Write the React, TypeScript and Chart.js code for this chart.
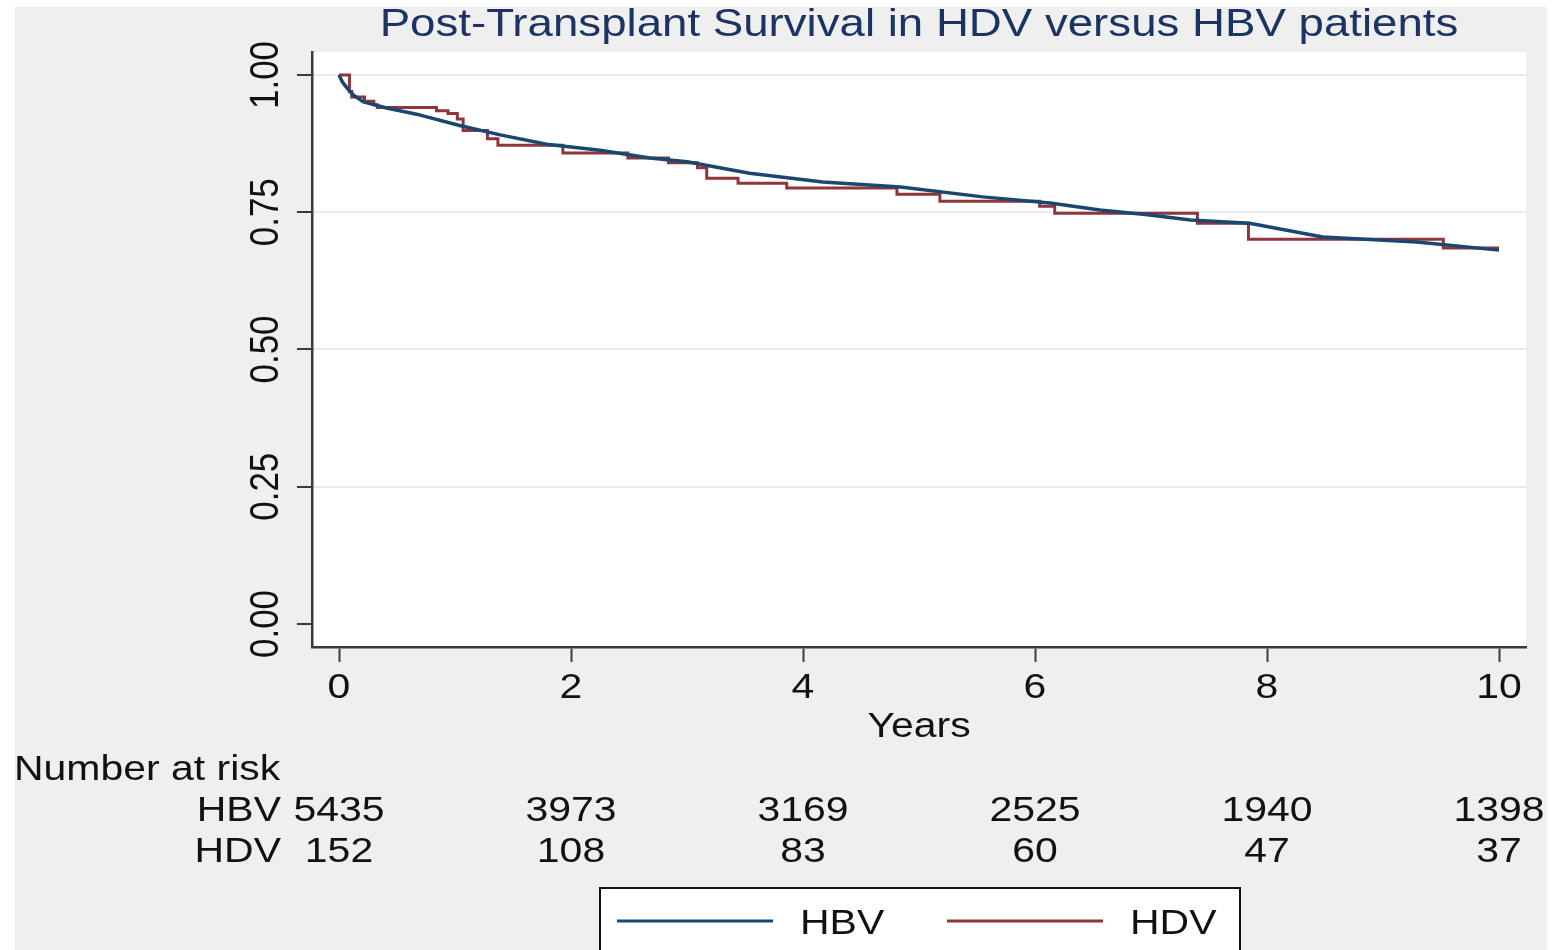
import React, { useEffect, useRef } from "react";
import { Chart, registerables } from "chart.js";

Chart.register(...registerables);

// ---- data ----
const titleText = "Post-Transplant Survival in HDV versus HBV patients";
const xAxisTitle = "Years";
const seriesNames = ["HBV", "HDV"];

const hbvTimes = [0, 0.03, 0.07, 0.12, 0.21, 0.41, 0.7, 1.04, 1.39, 1.79, 2.25, 2.68, 3.0, 3.54, 4.17, 4.84, 5.55, 6.13, 6.56, 6.99, 7.34, 7.85, 8.48, 9.29, 10];
const hbvSurvival = [1.0, 0.987, 0.976, 0.964, 0.951, 0.94, 0.927, 0.908, 0.891, 0.874, 0.863, 0.849, 0.842, 0.821, 0.805, 0.796, 0.778, 0.767, 0.754, 0.745, 0.736, 0.73, 0.705, 0.696, 0.681];

const hdvTimes = [0, 0.09, 0.11, 0.22, 0.3, 0.33, 0.84, 0.94, 1.02, 1.07, 1.28, 1.37, 1.93, 2.49, 2.84, 3.09, 3.17, 3.44, 3.86, 4.81, 5.18, 6.04, 6.17, 7.4, 7.84, 9.52, 10];
const hdvSurvival = [1.0, 0.97, 0.96, 0.952, 0.946, 0.941, 0.935, 0.93, 0.92, 0.899, 0.884, 0.872, 0.858, 0.849, 0.84, 0.831, 0.812, 0.803, 0.794, 0.783, 0.77, 0.761, 0.748, 0.73, 0.701, 0.685, 0.685];

const xTicks = [0, 2, 4, 6, 8, 10];
const xTickLabels = ["0", "2", "4", "6", "8", "10"];
const yTicks = [0, 0.25, 0.5, 0.75, 1.0];
const yTickLabels = ["0.00", "0.25", "0.50", "0.75", "1.00"];

const riskTitle = "Number at risk";
const riskTimes = [0, 2, 4, 6, 8, 10];
const hbvAtRisk = [5435, 3973, 3169, 2525, 1940, 1398];
const hdvAtRisk = [152, 108, 83, 60, 47, 37];

// ---- style ----
const W = 1553;
const H = 950;
const FONT = '"Liberation Sans", Arial, Helvetica, sans-serif';
const SX = 1.17;
const BLUE = "#1a476f";
const RED = "#90353b";
const AXIS = "#3a3a3a";
const OUTER = "#efefef";
const GRID = "#e3edef";

function drawText(
  ctx: CanvasRenderingContext2D,
  s: string,
  x: number,
  baseline: number,
  size: number,
  align: CanvasTextAlign,
  color: string
) {
  ctx.save();
  ctx.font = `${size}px ${FONT}`;
  ctx.fillStyle = color;
  ctx.textBaseline = "alphabetic";
  ctx.textAlign = align;
  ctx.translate(x, baseline);
  ctx.scale(SX, 1);
  ctx.fillText(s, 0, 0);
  ctx.restore();
}

const decorPlugin = {
  id: "decor",
  beforeDraw(chart: any) {
    const ctx = chart.ctx as CanvasRenderingContext2D;
    const a = chart.chartArea;
    ctx.save();
    ctx.fillStyle = "#ffffff";
    ctx.fillRect(0, 0, W, H);
    ctx.fillStyle = OUTER;
    ctx.fillRect(15, 7, 1547 - 15, H - 7);
    ctx.fillStyle = "#ffffff";
    ctx.fillRect(a.left, a.top, a.right - a.left, a.bottom - a.top);
    ctx.restore();
  },
  afterDraw(chart: any) {
    const ctx = chart.ctx as CanvasRenderingContext2D;
    const xs = chart.scales.x;
    const ys = chart.scales.y;
    const a = chart.chartArea;

    // title
    drawText(ctx, titleText, (a.left + a.right) / 2, 36, 39, "center", "#1c3464");

    // y tick labels (rotated)
    yTicks.forEach((v, i) => {
      const py = ys.getPixelForValue(v);
      ctx.save();
      ctx.font = `35px ${FONT}`;
      ctx.fillStyle = "#111111";
      ctx.textAlign = "center";
      ctx.textBaseline = "alphabetic";
      ctx.translate(278, py);
      ctx.scale(SX, 1);
      ctx.rotate(-Math.PI / 2);
      ctx.fillText(yTickLabels[i], 0, 0);
      ctx.restore();
    });

    // x tick labels
    xTicks.forEach((v, i) => {
      drawText(ctx, xTickLabels[i], xs.getPixelForValue(v), 698, 35, "center", "#111111");
    });
    drawText(ctx, xAxisTitle, (a.left + a.right) / 2, 737, 35, "center", "#111111");

    // risk table
    drawText(ctx, riskTitle, 14, 780, 35, "left", "#111111");
    drawText(ctx, seriesNames[0], 281, 821, 35, "right", "#111111");
    drawText(ctx, seriesNames[1], 281, 862, 35, "right", "#111111");
    riskTimes.forEach((t, i) => {
      const px = xs.getPixelForValue(t);
      drawText(ctx, String(hbvAtRisk[i]), px, 821, 35, "center", "#111111");
      drawText(ctx, String(hdvAtRisk[i]), px, 862, 35, "center", "#111111");
    });

    // legend box
    ctx.save();
    ctx.fillStyle = "#ffffff";
    ctx.fillRect(600, 888, 640, 80);
    ctx.strokeStyle = "#111111";
    ctx.lineWidth = 2;
    ctx.strokeRect(600, 888, 640, 80);
    ctx.lineWidth = 3;
    ctx.strokeStyle = BLUE;
    ctx.beginPath();
    ctx.moveTo(617, 921);
    ctx.lineTo(773, 921);
    ctx.stroke();
    ctx.strokeStyle = RED;
    ctx.beginPath();
    ctx.moveTo(947, 921);
    ctx.lineTo(1103, 921);
    ctx.stroke();
    ctx.restore();
    drawText(ctx, seriesNames[0], 800, 934, 35, "left", "#111111");
    drawText(ctx, seriesNames[1], 1130, 934, 35, "left", "#111111");

    // right white margin (crops edge)
    ctx.save();
    ctx.fillStyle = "#ffffff";
    ctx.fillRect(1547, 0, W - 1547, H);
    ctx.restore();
  },
};

export default function App() {
  const ref = useRef<HTMLCanvasElement | null>(null);

  useEffect(() => {
    if (!ref.current) return;
    const chart = new Chart(ref.current, {
      type: "line",
      data: {
        datasets: [
          {
            label: seriesNames[0],
            data: hbvTimes.map((t, i) => ({ x: t, y: hbvSurvival[i] })),
            borderColor: BLUE,
            borderWidth: 3.5,
            pointRadius: 0,
            tension: 0,
            borderJoinStyle: "round",
            fill: false,
          },
          {
            label: seriesNames[1],
            data: hdvTimes.map((t, i) => ({ x: t, y: hdvSurvival[i] })),
            borderColor: RED,
            borderWidth: 3,
            pointRadius: 0,
            stepped: "before",
            fill: false,
          },
        ],
      },
      options: {
        animation: false,
        responsive: false,
        devicePixelRatio: 1,
        layout: { padding: { left: 0, top: 52, right: 27, bottom: 203 } },
        plugins: {
          legend: { display: false },
          title: { display: false },
          tooltip: { enabled: false },
        },
        scales: {
          x: {
            type: "linear",
            min: -27 / 116,
            max: 10 + 27 / 116,
            afterBuildTicks: (s: any) => {
              s.ticks = xTicks.map((v) => ({ value: v }));
            },
            afterFit: (s: any) => {
              s.height = 100;
            },
            ticks: { display: false },
            grid: {
              drawOnChartArea: false,
              drawTicks: true,
              tickLength: 15,
              tickColor: AXIS,
              tickWidth: 2,
            },
            border: { display: true, color: AXIS, width: 2.5 },
          },
          y: {
            type: "linear",
            min: -23 / 549,
            max: 1 + 23 / 549,
            afterBuildTicks: (s: any) => {
              s.ticks = yTicks.map((v) => ({ value: v }));
            },
            afterFit: (s: any) => {
              s.width = 312;
            },
            ticks: { display: false },
            grid: {
              color: (c: any) => (c.tick && c.tick.value === 0 ? "rgba(0,0,0,0)" : GRID),
              lineWidth: 2,
              drawTicks: true,
              tickLength: 15,
              tickColor: AXIS,
              tickWidth: 2,
            },
            border: { display: true, color: AXIS, width: 2.5 },
          },
        },
      },
      plugins: [decorPlugin],
    } as any);
    return () => chart.destroy();
  }, []);

  return (
    <div style={{ position: "absolute", left: 0, top: 0, width: W, height: H, overflow: "hidden" }}>
      <canvas ref={ref} width={W} height={H} style={{ display: "block" }} />
    </div>
  );
}
